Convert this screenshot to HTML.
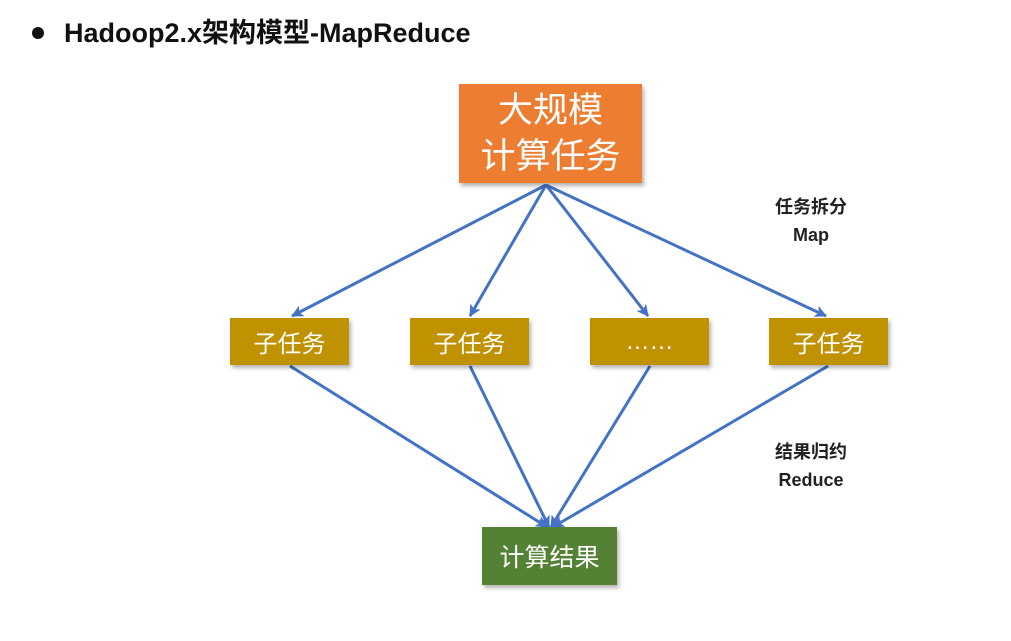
<!DOCTYPE html>
<html><head><meta charset="utf-8"><style>
body{margin:0;width:1011px;height:641px;background:#fff;position:relative;overflow:hidden;font-family:"Liberation Sans","Noto Sans CJK SC",sans-serif}
.t{position:absolute;left:64px;top:11px;font-size:27px;font-weight:bold;color:#111;white-space:nowrap}
.dot{position:absolute;left:32px;top:27px;width:12px;height:12px;border-radius:50%;background:#111}
.b{position:absolute;display:flex;align-items:center;justify-content:center;color:#fff;box-shadow:2px 3px 4px rgba(0,0,0,.3)}
.sub{background:#c09100;font-size:24px;top:318px;height:47px;width:119px}
.lbl{position:absolute;font-size:18px;font-weight:bold;color:#222;text-align:center;width:100px;line-height:28px}
</style></head><body>
<div class="dot"></div>
<div class="t">Hadoop2.x架构模型-MapReduce</div>
<svg width="1011" height="641" style="position:absolute;left:0;top:0">
<defs><marker id="a" markerWidth="12" markerHeight="12" refX="11" refY="6" orient="auto" markerUnits="userSpaceOnUse" viewBox="0 0 12 12"><path d="M0,0L12,6L0,12L3,6z" fill="#4472c4"/></marker></defs>
<g stroke="#4472c4" stroke-width="3" fill="none" marker-end="url(#a)">
<line x1="546" y1="185" x2="292" y2="316"/>
<line x1="546" y1="185" x2="470" y2="316"/>
<line x1="546" y1="185" x2="648" y2="316"/>
<line x1="546" y1="185" x2="826" y2="316"/>
<line x1="290" y1="366" x2="547" y2="527"/>
<line x1="470" y1="366" x2="549" y2="527"/>
<line x1="650" y1="366" x2="551" y2="527"/>
<line x1="828" y1="366" x2="553" y2="527"/>
</g></svg>
<div class="b" style="left:459px;top:84px;width:183px;height:99px;background:#ed7d31;font-size:35px;line-height:46px;text-align:center">大规模<br>计算任务</div>
<div class="b sub" style="left:230px">子任务</div>
<div class="b sub" style="left:410px">子任务</div>
<div class="b sub" style="left:590px">……</div>
<div class="b sub" style="left:769px">子任务</div>
<div class="b" style="left:482px;top:527px;width:135px;height:58px;background:#548235;font-size:25px">计算结果</div>
<div class="lbl" style="left:761px;top:193px">任务拆分<br>Map</div>
<div class="lbl" style="left:761px;top:438px">结果归约<br>Reduce</div>
</body></html>
